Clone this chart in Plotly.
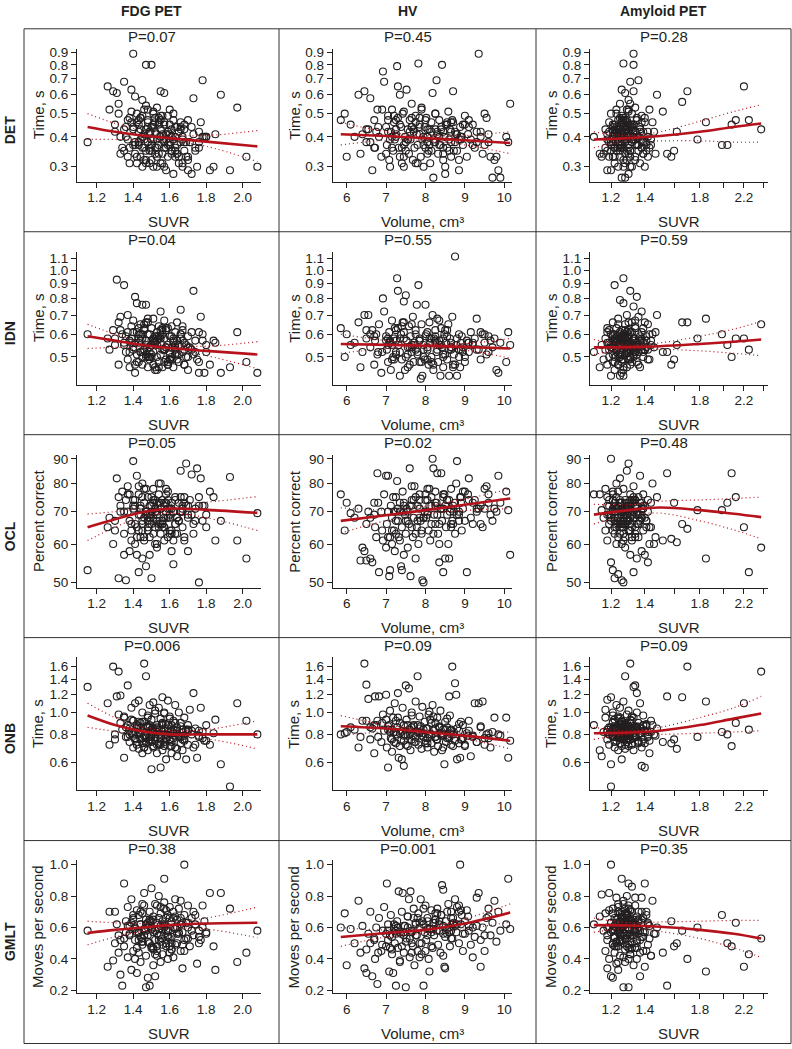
import plotly.graph_objects as go

# ---------------- data ----------------
FDG_SUVR = [
    1.15, 1.26, 1.27, 1.29, 1.30, 1.31, 1.32, 1.32, 1.33, 1.34,
    1.35, 1.35, 1.36, 1.37, 1.37, 1.38, 1.39, 1.39, 1.40, 1.40,
    1.41, 1.41, 1.42, 1.42, 1.43, 1.43, 1.43, 1.44, 1.44, 1.45,
    1.45, 1.45, 1.46, 1.46, 1.47, 1.47, 1.47, 1.48, 1.48, 1.49,
    1.49, 1.49, 1.50, 1.50, 1.51, 1.51, 1.51, 1.52, 1.52, 1.53,
    1.53, 1.53, 1.54, 1.54, 1.55, 1.55, 1.55, 1.56, 1.56, 1.57,
    1.57, 1.57, 1.58, 1.58, 1.59, 1.59, 1.60, 1.60, 1.61, 1.61,
    1.62, 1.62, 1.63, 1.63, 1.64, 1.64, 1.65, 1.65, 1.66, 1.66,
    1.67, 1.67, 1.68, 1.68, 1.69, 1.70, 1.70, 1.71, 1.72, 1.73,
    1.73, 1.74, 1.75, 1.76, 1.77, 1.78, 1.79, 1.80, 1.82, 1.85,
    1.88, 1.93, 1.97, 2.02, 2.08, 1.38, 1.46, 1.50, 1.54, 1.58,
    1.44, 1.48, 1.52, 1.56, 1.60, 1.64, 1.68, 1.42, 1.47, 1.51,
    1.36, 1.40, 1.45, 1.50, 1.55, 1.59, 1.63, 1.67, 1.72, 1.76,
    1.33, 1.41, 1.49, 1.53, 1.57, 1.61, 1.66, 1.70, 1.78, 1.84,
    1.38, 1.40, 1.42, 1.44, 1.46, 1.48, 1.50, 1.52, 1.54, 1.56,
    1.58, 1.60, 1.62, 1.64, 1.66, 1.68, 1.70, 1.43, 1.45, 1.47,
    1.49, 1.51, 1.53, 1.55, 1.57, 1.59, 1.61, 1.63, 1.65, 1.67,
    1.39, 1.41, 1.44, 1.46, 1.48, 1.50, 1.52, 1.54, 1.56, 1.58,
    1.60, 1.62, 1.35, 1.37, 1.74, 1.76, 1.43, 1.47, 1.51, 1.55,
    1.59, 1.63, 1.45, 1.49, 1.53, 1.57, 1.61, 1.30, 1.80, 1.69,
]
HV_VOLUME = [
    5.85, 5.95, 6.00, 6.10, 6.30, 6.35, 6.40, 6.45, 6.50, 6.55,
    6.60, 6.65, 6.70, 6.72, 6.78, 6.82, 6.88, 6.92, 6.95, 7.00,
    7.02, 7.05, 7.08, 7.10, 7.12, 7.15, 7.18, 7.20, 7.22, 7.25,
    7.28, 7.30, 7.32, 7.35, 7.38, 7.40, 7.42, 7.45, 7.48, 7.50,
    7.52, 7.55, 7.58, 7.60, 7.62, 7.65, 7.68, 7.70, 7.72, 7.75,
    7.78, 7.80, 7.82, 7.85, 7.88, 7.90, 7.92, 7.95, 7.98, 8.00,
    8.02, 8.05, 8.08, 8.10, 8.12, 8.15, 8.18, 8.20, 8.22, 8.25,
    8.28, 8.30, 8.32, 8.35, 8.38, 8.40, 8.42, 8.45, 8.48, 8.50,
    8.52, 8.55, 8.58, 8.60, 8.62, 8.65, 8.68, 8.70, 8.75, 8.78,
    8.80, 8.85, 8.88, 8.92, 8.95, 9.00, 9.05, 9.10, 9.15, 9.20,
    9.25, 9.30, 9.35, 9.40, 9.45, 9.50, 9.55, 9.60, 9.65, 9.70,
    9.75, 9.80, 9.85, 9.90, 10.05, 10.10, 10.15, 6.20, 6.75, 7.35,
    7.15, 7.45, 7.65, 7.85, 8.05, 8.25, 8.45, 8.65, 8.90, 7.05,
    7.25, 7.55, 7.75, 7.95, 8.15, 8.35, 8.55, 8.72, 9.08, 9.30,
    7.05, 7.15, 7.25, 7.35, 7.45, 7.55, 7.65, 7.75, 7.85, 7.95,
    8.05, 8.15, 8.25, 8.35, 8.45, 8.55, 8.65, 8.75, 8.85, 8.95,
    7.10, 7.30, 7.50, 7.70, 7.90, 8.10, 8.30, 8.50, 8.70, 8.90,
    6.60, 6.80, 7.00, 7.20, 7.40, 7.60, 7.80, 8.00, 8.20, 8.40,
    8.60, 8.80, 9.00, 9.20, 9.40, 6.90, 7.45, 7.85, 8.25, 8.65,
    6.50, 6.70, 7.25, 7.65, 8.05, 8.45, 8.85, 9.10, 9.50, 9.60,
]
AMY_SUVR = [
    1.11, 1.14, 1.15, 1.16, 1.17, 1.17, 1.18, 1.18, 1.19, 1.19,
    1.20, 1.20, 1.20, 1.21, 1.21, 1.21, 1.22, 1.22, 1.22, 1.23,
    1.23, 1.23, 1.24, 1.24, 1.24, 1.25, 1.25, 1.25, 1.26, 1.26,
    1.26, 1.27, 1.27, 1.27, 1.28, 1.28, 1.28, 1.29, 1.29, 1.29,
    1.30, 1.30, 1.30, 1.31, 1.31, 1.31, 1.32, 1.32, 1.33, 1.33,
    1.33, 1.34, 1.34, 1.35, 1.35, 1.36, 1.36, 1.37, 1.37, 1.38,
    1.38, 1.39, 1.39, 1.40, 1.40, 1.41, 1.42, 1.43, 1.44, 1.45,
    1.46, 1.48, 1.52, 1.55, 1.58, 1.60, 1.62, 1.66, 1.70, 1.78,
    1.85, 1.99, 2.04, 2.08, 2.12, 2.20, 2.25, 2.38, 1.26, 1.30,
    1.21, 1.23, 1.25, 1.27, 1.29, 1.31, 1.33, 1.35, 1.24, 1.28,
    1.19, 1.22, 1.26, 1.30, 1.34, 1.37, 1.41, 1.27, 1.32, 1.25,
    1.20, 1.24, 1.28, 1.31, 1.36, 1.39, 1.29, 1.26, 1.23, 1.33,
    1.18, 1.22, 1.25, 1.28, 1.30, 1.32, 1.35, 1.38, 1.42, 1.27,
    1.21, 1.24, 1.26, 1.29, 1.31, 1.34, 1.29, 1.27, 1.25, 1.30,
    1.20, 1.21, 1.22, 1.23, 1.24, 1.25, 1.26, 1.27, 1.28, 1.29,
    1.30, 1.31, 1.32, 1.33, 1.34, 1.35, 1.36, 1.37, 1.38, 1.39,
    1.22, 1.24, 1.26, 1.28, 1.30, 1.32, 1.34, 1.36, 1.23, 1.27,
    1.25, 1.29, 1.31, 1.33, 1.21, 1.19, 1.40, 1.41, 1.42, 1.43,
    1.26, 1.28, 1.30, 1.24, 1.32, 1.27, 1.29, 1.25, 1.35, 1.31,
    1.18, 1.22, 1.26, 1.30, 1.34, 1.38, 1.44, 1.47, 1.28, 1.23,
]

# DET (Time, s)
DET_FDG = [
    0.38, 0.65, 0.52, 0.62, 0.42, 0.61, 0.55, 0.50, 0.40, 0.36,
    0.68, 0.35, 0.44, 0.33, 0.39, 0.31, 0.63, 0.46, 0.89, 0.37,
    0.59, 0.34, 0.50, 0.31, 0.42, 0.37, 0.45, 0.33, 0.48, 0.57,
    0.40, 0.30, 0.52, 0.36, 0.80, 0.43, 0.32, 0.47, 0.38, 0.31,
    0.42, 0.35, 0.80, 0.44, 0.30, 0.50, 0.39, 0.36, 0.46, 0.33,
    0.41, 0.53, 0.37, 0.48, 0.62, 0.31, 0.43, 0.39, 0.34, 0.61,
    0.45, 0.36, 0.29, 0.41, 0.33, 0.49, 0.38, 0.52, 0.35, 0.43,
    0.47, 0.28, 0.40, 0.36, 0.44, 0.34, 0.31, 0.42, 0.38, 0.46,
    0.30, 0.39, 0.35, 0.45, 0.33, 0.47, 0.29, 0.38, 0.28, 0.58,
    0.41, 0.36, 0.30, 0.38, 0.46, 0.69, 0.40, 0.40, 0.29, 0.41,
    0.60, 0.29, 0.53, 0.33, 0.30, 0.48, 0.41, 0.37, 0.45, 0.39,
    0.39, 0.44, 0.34, 0.49, 0.41, 0.37, 0.43, 0.46, 0.35, 0.51,
    0.40, 0.43, 0.36, 0.32, 0.47, 0.42, 0.35, 0.31, 0.44, 0.36,
    0.34, 0.38, 0.42, 0.39, 0.30, 0.40, 0.44, 0.33, 0.40, 0.30,
    0.36, 0.44, 0.33, 0.48, 0.39, 0.52, 0.35, 0.42, 0.46, 0.31,
    0.41, 0.37, 0.50, 0.34, 0.43, 0.38, 0.32, 0.47, 0.40, 0.54,
    0.36, 0.45, 0.30, 0.49, 0.38, 0.42, 0.35, 0.44, 0.33, 0.40,
    0.51, 0.37, 0.43, 0.32, 0.46, 0.39, 0.48, 0.34, 0.41, 0.36,
    0.45, 0.39, 0.43, 0.47, 0.35, 0.42, 0.38, 0.31, 0.44, 0.40,
    0.37, 0.33, 0.49, 0.41, 0.36, 0.46, 0.34, 0.45, 0.40, 0.38,
]
DET_HV = [
    0.47, 0.50, 0.33, 0.45, 0.60, 0.34, 0.41, 0.62, 0.38, 0.43,
    0.58, 0.29, 0.47, 0.36, 0.52, 0.40, 0.33, 0.75, 0.68, 0.44,
    0.37, 0.49, 0.32, 0.30, 0.42, 0.52, 0.35, 0.46, 0.39, 0.41,
    0.79, 0.65, 0.36, 0.60, 0.44, 0.31, 0.50, 0.30, 0.40, 0.38,
    0.63, 0.43, 0.34, 0.47, 0.39, 0.55, 0.32, 0.42, 0.36, 0.49,
    0.41, 0.37, 0.81, 0.45, 0.33, 0.52, 0.39, 0.30, 0.44, 0.36,
    0.48, 0.40, 0.35, 0.43, 0.31, 0.46, 0.61, 0.27, 0.38, 0.50,
    0.69, 0.42, 0.34, 0.47, 0.37, 0.44, 0.80, 0.32, 0.40, 0.28,
    0.45, 0.36, 0.51, 0.39, 0.43, 0.33, 0.47, 0.62, 0.38, 0.41,
    0.35, 0.29, 0.44, 0.40, 0.37, 0.49, 0.33, 0.47, 0.39, 0.45,
    0.36, 0.42, 0.89, 0.42, 0.34, 0.50, 0.48, 0.38, 0.33, 0.27,
    0.32, 0.33, 0.29, 0.27, 0.40, 0.38, 0.55, 0.40, 0.42, 0.45,
    0.40, 0.37, 0.44, 0.41, 0.38, 0.43, 0.36, 0.42, 0.39, 0.47,
    0.43, 0.39, 0.46, 0.40, 0.42, 0.37, 0.45, 0.35, 0.41, 0.38,
    0.42, 0.36, 0.47, 0.33, 0.51, 0.39, 0.44, 0.31, 0.48, 0.37,
    0.43, 0.35, 0.50, 0.40, 0.34, 0.46, 0.38, 0.42, 0.32, 0.45,
    0.39, 0.48, 0.35, 0.43, 0.53, 0.37, 0.41, 0.30, 0.46, 0.40,
    0.38, 0.44, 0.34, 0.49, 0.36, 0.42, 0.31, 0.47, 0.39, 0.43,
    0.35, 0.41, 0.45, 0.37, 0.40, 0.52, 0.33, 0.44, 0.38, 0.46,
    0.43, 0.36, 0.40, 0.48, 0.34, 0.42, 0.39, 0.44, 0.37, 0.41,
]
DET_AMY = [
    0.40, 0.34, 0.33, 0.34, 0.43, 0.36, 0.29, 0.41, 0.38, 0.46,
    0.29, 0.37, 0.50, 0.33, 0.42, 0.39, 0.45, 0.31, 0.36, 0.52,
    0.40, 0.35, 0.47, 0.30, 0.38, 0.43, 0.33, 0.55, 0.63, 0.27,
    0.41, 0.81, 0.36, 0.48, 0.61, 0.27, 0.39, 0.44, 0.32, 0.52,
    0.28, 0.40, 0.57, 0.68, 0.35, 0.45, 0.38, 0.50, 0.89, 0.80,
    0.62, 0.42, 0.33, 0.47, 0.37, 0.69, 0.40, 0.31, 0.44, 0.36,
    0.49, 0.38, 0.42, 0.30, 0.46, 0.35, 0.40, 0.52, 0.37, 0.46,
    0.42, 0.60, 0.51, 0.34, 0.33, 0.35, 0.42, 0.56, 0.62, 0.39,
    0.46, 0.37, 0.37, 0.45, 0.47, 0.65, 0.47, 0.43, 0.37, 0.42,
    0.38, 0.44, 0.35, 0.40, 0.46, 0.33, 0.41, 0.37, 0.43, 0.39,
    0.42, 0.36, 0.45, 0.34, 0.39, 0.43, 0.37, 0.41, 0.30, 0.48,
    0.35, 0.41, 0.38, 0.44, 0.40, 0.34, 0.47, 0.36, 0.42, 0.39,
    0.39, 0.43, 0.37, 0.42, 0.36, 0.45, 0.40, 0.38, 0.33, 0.44,
    0.44, 0.38, 0.42, 0.35, 0.41, 0.39, 0.43, 0.46, 0.40, 0.37,
    0.38, 0.45, 0.33, 0.50, 0.41, 0.36, 0.47, 0.30, 0.43, 0.39,
    0.52, 0.35, 0.44, 0.40, 0.32, 0.48, 0.37, 0.42, 0.46, 0.34,
    0.41, 0.36, 0.49, 0.31, 0.44, 0.39, 0.53, 0.35, 0.42, 0.47,
    0.37, 0.43, 0.30, 0.45, 0.40, 0.33, 0.48, 0.38, 0.42, 0.36,
    0.46, 0.34, 0.51, 0.39, 0.43, 0.32, 0.40, 0.44, 0.37, 0.55,
    0.35, 0.41, 0.38, 0.45, 0.42, 0.36, 0.39, 0.34, 0.47, 0.43,
]

# IDN (Time, s)
IDN_FDG = [
    0.60, 0.58, 0.53, 0.62, 0.55, 0.93, 0.47, 0.66, 0.69, 0.60,
    0.89, 0.56, 0.52, 0.70, 0.49, 0.46, 0.64, 0.58, 0.54, 0.67,
    0.81, 0.44, 0.77, 0.51, 0.60, 0.48, 0.56, 0.65, 0.52, 0.76,
    0.58, 0.47, 0.62, 0.53, 0.76, 0.50, 0.57, 0.66, 0.46, 0.60,
    0.54, 0.49, 0.63, 0.57, 0.47, 0.68, 0.52, 0.59, 0.45, 0.61,
    0.55, 0.50, 0.64, 0.48, 0.72, 0.56, 0.51, 0.60, 0.46, 0.67,
    0.53, 0.58, 0.49, 0.62, 0.55, 0.47, 0.59, 0.52, 0.64, 0.50,
    0.57, 0.46, 0.61, 0.53, 0.49, 0.66, 0.55, 0.48, 0.73, 0.58,
    0.52, 0.62, 0.47, 0.56, 0.50, 0.59, 0.45, 0.54, 0.61, 0.85,
    0.51, 0.57, 0.49, 0.44, 0.69, 0.60, 0.44, 0.55, 0.47, 0.56,
    0.44, 0.46, 0.61, 0.48, 0.44, 0.57, 0.63, 0.51, 0.58, 0.54,
    0.52, 0.60, 0.56, 0.63, 0.51, 0.57, 0.53, 0.61, 0.55, 0.58,
    0.59, 0.53, 0.50, 0.55, 0.58, 0.63, 0.51, 0.57, 0.53, 0.61,
    0.62, 0.56, 0.52, 0.59, 0.48, 0.54, 0.60, 0.50, 0.57, 0.57,
    0.52, 0.61, 0.48, 0.57, 0.65, 0.50, 0.55, 0.46, 0.59, 0.53,
    0.63, 0.49, 0.56, 0.51, 0.60, 0.47, 0.54, 0.58, 0.52, 0.66,
    0.50, 0.57, 0.45, 0.62, 0.53, 0.48, 0.59, 0.55, 0.51, 0.64,
    0.56, 0.47, 0.60, 0.53, 0.68, 0.50, 0.57, 0.46, 0.62, 0.54,
    0.49, 0.58, 0.55, 0.61, 0.52, 0.48, 0.63, 0.51, 0.56, 0.59,
    0.47, 0.54, 0.60, 0.50, 0.57, 0.53, 0.49, 0.58, 0.52, 0.55,
]
IDN_HV = [
    0.63, 0.50, 0.60, 0.55, 0.66, 0.46, 0.52, 0.70, 0.58, 0.70,
    0.54, 0.62, 0.47, 0.57, 0.51, 0.65, 0.44, 0.80, 0.72, 0.59,
    0.53, 0.48, 0.61, 0.56, 0.45, 0.67, 0.50, 0.58, 0.63, 0.52,
    0.94, 0.85, 0.55, 0.43, 0.60, 0.49, 0.66, 0.78, 0.45, 0.82,
    0.57, 0.51, 0.64, 0.47, 0.59, 0.54, 0.69, 0.48, 0.56, 0.62,
    0.76, 0.52, 0.89, 0.58, 0.42, 0.65, 0.43, 0.55, 0.49, 0.76,
    0.60, 0.53, 0.47, 0.66, 0.56, 0.50, 0.70, 0.45, 0.58, 0.62,
    0.52, 0.68, 0.48, 0.57, 0.43, 0.63, 0.54, 0.46, 0.60, 0.51,
    0.56, 0.49, 0.65, 0.43, 0.58, 0.53, 0.69, 0.47, 1.12, 0.55,
    0.43, 0.50, 0.46, 0.59, 0.54, 0.48, 0.57, 0.52, 0.61, 0.55,
    0.58, 0.68, 0.53, 0.49, 0.60, 0.56, 0.51, 0.59, 0.57, 0.54,
    0.58, 0.45, 0.44, 0.56, 0.48, 0.61, 0.55, 0.56, 0.60, 0.58,
    0.55, 0.61, 0.52, 0.57, 0.54, 0.59, 0.50, 0.56, 0.53, 0.58,
    0.57, 0.54, 0.60, 0.53, 0.58, 0.55, 0.62, 0.51, 0.56, 0.53,
    0.55, 0.49, 0.62, 0.52, 0.58, 0.46, 0.65, 0.53, 0.57, 0.50,
    0.61, 0.48, 0.56, 0.67, 0.51, 0.59, 0.54, 0.47, 0.60, 0.52,
    0.57, 0.63, 0.50, 0.55, 0.48, 0.58, 0.53, 0.62, 0.46, 0.56,
    0.60, 0.52, 0.57, 0.49, 0.64, 0.54, 0.51, 0.59, 0.47, 0.55,
    0.53, 0.58, 0.50, 0.56, 0.61, 0.52, 0.66, 0.48, 0.57, 0.54,
    0.62, 0.59, 0.51, 0.55, 0.49, 0.58, 0.53, 0.56, 0.60, 0.52,
]
IDN_AMY = [
    0.52, 0.46, 0.55, 0.49, 0.58, 0.53, 0.61, 0.47, 0.56, 0.50,
    0.60, 0.43, 0.54, 0.66, 0.51, 0.48, 0.89, 0.57, 0.45, 0.63,
    0.52, 0.59, 0.47, 0.55, 0.68, 0.50, 0.79, 0.43, 0.57, 0.62,
    0.48, 0.94, 0.77, 0.43, 0.54, 0.65, 0.51, 0.59, 0.46, 0.70,
    0.56, 0.49, 0.62, 0.85, 0.53, 0.47, 0.66, 0.55, 0.75, 0.50,
    0.58, 0.52, 0.63, 0.81, 0.48, 0.57, 0.69, 0.54, 0.46, 0.72,
    0.61, 0.50, 0.56, 0.66, 0.53, 0.59, 0.65, 0.49, 0.57, 0.60,
    0.54, 0.70, 0.52, 0.52, 0.47, 0.49, 0.55, 0.66, 0.66, 0.58,
    0.68, 0.60, 0.55, 0.50, 0.58, 0.58, 0.53, 0.65, 0.55, 0.52,
    0.57, 0.53, 0.50, 0.58, 0.55, 0.61, 0.51, 0.56, 0.54, 0.59,
    0.53, 0.58, 0.55, 0.60, 0.52, 0.57, 0.54, 0.49, 0.56, 0.61,
    0.55, 0.51, 0.58, 0.54, 0.60, 0.52, 0.56, 0.59, 0.53, 0.57,
    0.56, 0.60, 0.52, 0.55, 0.58, 0.54, 0.51, 0.57, 0.53, 0.59,
    0.54, 0.57, 0.59, 0.53, 0.56, 0.58, 0.52, 0.55, 0.60, 0.56,
    0.54, 0.60, 0.48, 0.57, 0.65, 0.51, 0.58, 0.46, 0.62, 0.53,
    0.56, 0.49, 0.61, 0.52, 0.67, 0.55, 0.47, 0.59, 0.53, 0.63,
    0.50, 0.57, 0.44, 0.60, 0.54, 0.48, 0.64, 0.52, 0.58, 0.45,
    0.56, 0.61, 0.50, 0.55, 0.59, 0.62, 0.53, 0.57, 0.49, 0.60,
    0.51, 0.58, 0.66, 0.47, 0.55, 0.60, 0.52, 0.57, 0.54, 0.50,
    0.63, 0.56, 0.49, 0.59, 0.53, 0.58, 0.55, 0.61, 0.51, 0.57,
]

# OCL (Percent correct)
OCL_FDG = [
    53, 65, 68, 60, 64, 82, 51, 75, 70, 77,
    63, 57, 50.5, 79, 70, 58, 66, 61, 89, 72,
    60, 74, 57, 83, 52.5, 69, 76, 62, 71, 56,
    80, 66, 73, 61, 54, 70, 78, 64, 67, 57,
    72, 62, 51, 75, 68, 78, 63, 70, 65, 73,
    69, 60, 76, 66, 71, 80, 63, 74, 67, 61,
    72, 65, 78, 68, 62, 74, 69, 64, 71, 58,
    54.5, 70, 66, 75, 68, 63, 73, 67, 85, 70,
    72, 65, 75, 62, 88, 69, 58, 74, 83.5, 66,
    63, 71, 86, 50, 82, 67, 72, 65, 77, 61,
    67, 82.5, 61, 56, 69.5, 76, 68, 72, 65, 70,
    72, 69, 74, 66, 71, 68, 73, 65, 70, 67,
    74, 71, 67, 70, 73, 68, 66, 71, 69, 75,
    72, 66, 69, 67, 73, 64, 70, 68, 72, 75,
    67, 74, 62, 71, 78, 65, 69, 60, 73, 66,
    76, 63, 70, 68, 75, 61, 72, 79, 64, 70,
    66, 73, 59, 71, 68, 77, 63, 74, 67, 70,
    64, 72, 69, 62, 75, 66, 71, 80, 65, 73,
    68, 61, 70, 76, 67, 72, 64, 69, 74, 66,
    71, 63, 75, 68, 70, 65, 73, 67, 69, 72,
]
OCL_HV = [
    76, 64, 73, 69.5, 71, 55.5, 59, 58, 55.5, 70,
    56, 55, 73, 65, 84, 52.5, 70, 61, 76, 83,
    66, 83, 51.5, 53, 72, 60, 75, 64, 58, 70,
    81, 67, 62, 73, 54, 53, 77, 57, 69, 63,
    71, 59, 66, 86, 51.5, 74, 62, 68, 79, 56,
    65, 72, 60, 76, 67, 63, 50.5, 50, 70, 74,
    68, 78, 64, 72, 61, 75, 90, 86, 69, 66,
    73, 84, 63, 55, 71, 84, 67, 52.5, 76, 56,
    65, 74, 60, 56, 70, 78, 67, 72, 63, 80,
    89, 69, 75, 64, 71, 67, 52.5, 82, 68, 73,
    74, 70, 71, 66, 65, 78, 79, 76, 69, 67,
    71, 70, 83, 73, 77, 70.5, 57, 68, 62, 70,
    68, 72, 65, 74, 69, 77, 71, 66, 73, 62,
    67, 70, 75, 68, 72, 66, 74, 70, 76, 71,
    70, 64, 75, 61, 73, 67, 79, 63, 71, 68,
    74, 66, 72, 60, 76, 69, 65, 73, 70, 77,
    62, 71, 67, 74, 64, 78, 69, 72, 66, 75,
    68, 73, 59, 70, 65, 72, 67, 76, 63, 71,
    74, 69, 77, 66, 72, 64, 70, 68, 73, 71,
    66, 69, 63, 72, 70, 75, 67, 74, 71, 73,
]
OCL_AMY = [
    76, 76, 70.5, 68, 78, 64, 61, 72, 66, 74,
    90, 55, 69, 53, 77, 64, 51, 72, 67, 80,
    60, 75, 52, 68, 71, 63, 82, 66, 50.5, 73,
    65, 50, 78, 69, 59, 74, 62, 85, 67, 71,
    88, 64, 70, 57, 76, 66, 61, 73, 52.5, 68,
    79, 65, 72, 56, 69, 75, 62, 67, 83, 58,
    71, 64, 76, 57, 68, 65, 55, 60, 73, 80,
    60, 75, 61, 84, 61.5, 73, 60.5, 66, 64.5, 70.5,
    56, 70.5, 73, 84, 75, 65, 52.5, 59, 69, 72,
    70, 67, 73, 65, 71, 68, 74, 66, 62, 70,
    72, 68, 66, 71, 74, 69, 67, 63, 70, 73,
    67, 71, 69, 74, 66, 72, 68, 70, 65, 73,
    69, 73, 67, 71, 70, 65, 72, 68, 74, 66,
    71, 66, 70, 72, 68, 74, 69, 67, 73, 70,
    68, 74, 63, 71, 77, 65, 70, 61, 73, 67,
    72, 64, 69, 75, 62, 70, 66, 73, 68, 71,
    65, 72, 60, 70, 67, 74, 63, 69, 71, 66,
    73, 68, 64, 70, 76, 69, 72, 67, 70, 65,
    71, 66, 73, 68, 62, 70, 67, 74, 69, 72,
    75, 70, 66, 71, 68, 73, 65, 62, 69, 71,
]

# ONB (Time, s)
ONB_FDG = [
    1.30, 1.10, 0.72, 1.60, 0.76, 1.18, 1.52, 0.98, 1.19, 0.84,
    0.63, 0.95, 0.78, 1.32, 0.88, 0.74, 1.05, 0.81, 0.70, 0.92,
    1.10, 0.77, 0.85, 0.72, 1.13, 0.80, 0.69, 0.90, 0.76, 1.00,
    0.83, 0.66, 1.65, 0.79, 1.45, 0.87, 0.73, 0.95, 0.68, 1.08,
    0.78, 0.86, 0.56, 0.93, 0.70, 1.11, 0.82, 0.75, 0.99, 0.66,
    0.88, 0.72, 1.05, 0.80, 0.57, 0.94, 0.77, 1.17, 0.68, 0.85,
    0.74, 1.00, 0.62, 0.89, 0.79, 1.13, 0.71, 0.96, 0.83, 0.66,
    0.92, 0.77, 1.08, 0.70, 0.86, 0.64, 1.00, 0.79, 0.73, 0.90,
    0.82, 0.68, 0.95, 0.76, 0.62, 0.88, 0.72, 1.03, 0.80, 1.22,
    0.70, 0.85, 0.63, 0.78, 1.05, 0.82, 0.75, 0.88, 0.72, 0.93,
    0.59, 0.47, 1.10, 0.92, 0.80, 0.85, 0.91, 0.74, 0.84, 0.77,
    0.81, 0.87, 0.78, 0.90, 0.76, 0.83, 0.79, 0.88, 0.74, 0.85,
    0.86, 0.80, 0.77, 0.84, 0.72, 0.88, 0.81, 0.76, 0.83, 0.79,
    0.90, 0.82, 0.75, 0.86, 0.80, 0.71, 0.78, 0.84, 0.77, 0.81,
    0.80, 0.92, 0.74, 0.86, 0.70, 0.97, 0.78, 0.84, 0.72, 0.89,
    0.76, 0.94, 0.81, 0.69, 0.87, 0.75, 0.83, 0.91, 0.73, 0.79,
    0.88, 0.71, 0.85, 0.77, 0.99, 0.82, 0.74, 0.90, 0.78, 0.84,
    0.93, 0.76, 0.81, 0.70, 0.86, 0.79, 1.02, 0.73, 0.88, 0.80,
    0.75, 0.84, 0.96, 0.78, 0.72, 0.83, 0.87, 0.77, 0.81, 0.74,
    0.85, 0.79, 0.91, 0.76, 0.82, 0.71, 0.88, 0.80, 0.75, 0.84,
]
ONB_HV = [
    0.80, 0.81, 0.82, 0.86, 0.70, 0.78, 0.92, 1.65, 1.33, 1.15,
    0.76, 0.85, 0.66, 1.18, 0.92, 1.18, 0.74, 0.98, 0.83, 1.20,
    0.70, 0.57, 0.88, 1.02, 0.77, 0.67, 0.95, 0.82, 1.10, 0.73,
    0.86, 1.22, 0.63, 0.90, 0.75, 0.62, 1.05, 0.58, 0.80, 1.32,
    0.93, 0.71, 1.28, 0.84, 0.68, 1.00, 0.79, 0.88, 0.74, 1.12,
    0.82, 1.45, 0.72, 0.96, 0.87, 0.69, 1.06, 0.78, 0.91, 0.75,
    0.85, 0.70, 0.98, 0.80, 0.93, 0.73, 1.08, 0.83, 0.67, 0.90,
    0.76, 0.95, 0.71, 0.87, 1.02, 0.79, 0.68, 0.84, 0.59, 0.91,
    0.74, 0.86, 0.78, 1.18, 0.97, 0.72, 1.60, 0.80, 1.35, 1.20,
    0.62, 0.83, 0.63, 0.76, 0.88, 0.71, 0.81, 0.92, 0.64, 0.78,
    1.10, 0.74, 1.10, 0.86, 1.12, 0.72, 0.80, 0.77, 0.70, 0.82,
    0.95, 0.45, 0.80, 0.79, 0.95, 0.63, 0.75, 0.84, 0.88, 0.81,
    0.84, 0.79, 0.86, 0.81, 0.77, 0.85, 0.80, 0.83, 0.76, 0.87,
    0.82, 0.88, 0.78, 0.84, 0.80, 0.86, 0.77, 0.82, 0.79, 0.74,
    0.84, 0.76, 0.92, 0.71, 0.88, 0.79, 0.97, 0.74, 0.85, 0.81,
    0.73, 0.90, 0.78, 0.86, 0.70, 0.94, 0.80, 0.75, 0.89, 0.77,
    0.82, 0.95, 0.72, 0.87, 0.79, 1.01, 0.76, 0.84, 0.71, 0.91,
    0.86, 0.78, 0.93, 0.74, 0.83, 0.80, 0.88, 0.73, 0.96, 0.81,
    0.77, 0.85, 0.72, 0.79, 0.87, 0.90, 0.75, 0.82, 0.78, 0.84,
    0.92, 0.88, 0.80, 0.76, 0.85, 0.79, 0.73, 0.83, 0.77, 0.81,
]
ONB_AMY = [
    0.88, 0.68, 0.64, 0.82, 0.95, 1.03, 1.14, 0.76, 0.86, 0.72,
    1.17, 0.59, 0.47, 0.90, 0.78, 1.00, 0.84, 0.70, 0.93, 0.81,
    0.75, 1.08, 0.87, 0.68, 0.96, 0.80, 0.73, 1.05, 0.62, 0.85,
    0.91, 0.77, 1.12, 0.83, 0.69, 1.45, 0.88, 0.74, 0.98, 0.79,
    0.86, 0.71, 1.02, 0.80, 1.65, 0.76, 0.92, 0.84, 1.30, 0.68,
    0.95, 1.32, 0.78, 0.87, 1.22, 0.73, 0.90, 0.81, 1.10, 0.58,
    0.85, 0.76, 0.97, 0.57, 0.83, 0.88, 0.79, 0.66, 0.92, 0.88,
    0.80, 0.85, 0.74, 1.18, 0.73, 0.76, 0.69, 1.17, 1.60, 0.78,
    1.12, 0.82, 0.80, 0.71, 0.90, 1.10, 0.84, 1.52, 0.82, 0.87,
    0.84, 0.79, 0.88, 0.82, 0.76, 0.90, 0.81, 0.86, 0.78, 0.83,
    0.80, 0.87, 0.83, 0.77, 0.85, 0.81, 0.89, 0.79, 0.84, 0.82,
    0.86, 0.81, 0.78, 0.84, 0.80, 0.88, 0.83, 0.77, 0.85, 0.79,
    0.82, 0.85, 0.80, 0.87, 0.79, 0.83, 0.86, 0.81, 0.78, 0.84,
    0.79, 0.83, 0.86, 0.80, 0.84, 0.78, 0.82, 0.87, 0.81, 0.85,
    0.82, 0.91, 0.74, 0.86, 0.78, 0.95, 0.71, 0.84, 0.89, 0.76,
    0.80, 0.93, 0.73, 0.87, 0.79, 1.00, 0.75, 0.83, 0.70, 0.88,
    0.85, 0.77, 0.92, 0.72, 0.81, 0.96, 0.79, 0.74, 0.86, 0.83,
    0.78, 0.90, 0.76, 0.84, 0.97, 0.80, 0.73, 0.87, 0.82, 0.75,
    0.89, 0.81, 0.77, 0.94, 0.72, 0.85, 0.79, 0.88, 0.83, 0.76,
    0.84, 0.78, 0.91, 0.80, 0.86, 0.74, 0.82, 0.79, 0.87, 0.81,
]

# GMLT (Moves per second)
GMLT_FDG = [
    0.58, 0.35, 0.70, 0.39, 0.50, 0.62, 0.44, 0.55, 0.30, 0.23,
    0.88, 0.48, 0.64, 0.41, 0.73, 0.56, 0.78, 0.33, 0.66, 0.45,
    0.60, 0.52, 0.71, 0.31, 0.57, 0.68, 0.44, 0.62, 0.38, 0.53,
    0.75, 0.49, 0.82, 0.59, 0.22, 0.65, 0.42, 0.55, 0.28, 0.70,
    0.23, 0.61, 0.48, 0.85, 0.57, 0.36, 0.67, 0.29, 0.52, 0.74,
    0.45, 0.63, 0.55, 0.80, 0.38, 0.69, 0.51, 0.59, 0.43, 0.76,
    0.62, 0.91, 0.48, 0.66, 0.40, 0.58, 0.73, 0.53, 0.64, 0.46,
    0.70, 0.41, 0.60, 0.78, 0.50, 0.65, 0.56, 0.72, 0.45, 0.62,
    0.34, 0.57, 1.00, 0.68, 0.53, 0.74, 0.60, 0.48, 0.66, 0.55,
    0.70, 0.62, 0.37, 0.58, 0.52, 0.74, 0.64, 0.57, 0.82, 0.33,
    0.82, 0.72, 0.38, 0.44, 0.58, 0.61, 0.55, 0.64, 0.59, 0.50,
    0.54, 0.63, 0.58, 0.49, 0.66, 0.60, 0.52, 0.57, 0.62, 0.47,
    0.57, 0.65, 0.51, 0.60, 0.55, 0.68, 0.49, 0.63, 0.58, 0.54,
    0.52, 0.59, 0.64, 0.56, 0.61, 0.50, 0.66, 0.53, 0.60, 0.48,
    0.55, 0.68, 0.47, 0.62, 0.74, 0.51, 0.59, 0.43, 0.66, 0.53,
    0.71, 0.48, 0.60, 0.56, 0.77, 0.45, 0.63, 0.52, 0.69, 0.58,
    0.50, 0.65, 0.42, 0.61, 0.72, 0.54, 0.46, 0.67, 0.57, 0.49,
    0.63, 0.40, 0.70, 0.55, 0.60, 0.47, 0.75, 0.52, 0.64, 0.58,
    0.44, 0.66, 0.53, 0.61, 0.68, 0.50, 0.57, 0.62, 0.46, 0.73,
    0.55, 0.59, 0.51, 0.65, 0.48, 0.60, 0.54, 0.70, 0.56, 0.63,
]
GMLT_HV = [
    0.60, 0.69, 0.36, 0.59, 0.77, 0.44, 0.61, 0.34, 0.31, 0.56,
    0.70, 0.29, 0.52, 0.40, 0.24, 0.66, 0.45, 0.58, 0.73, 0.48,
    0.88, 0.62, 0.32, 0.55, 0.68, 0.43, 0.31, 0.59, 0.50, 0.23,
    0.64, 0.47, 0.83, 0.38, 0.56, 0.70, 0.82, 0.44, 0.61, 0.22,
    0.53, 0.67, 0.78, 0.41, 0.83, 0.58, 0.48, 0.72, 0.36, 0.62,
    0.55, 0.45, 0.69, 0.60, 0.78, 0.50, 0.64, 0.23, 0.57, 0.74,
    0.52, 0.66, 0.40, 0.32, 0.59, 0.71, 0.47, 0.63, 0.55, 0.69,
    0.58, 0.72, 0.49, 0.62, 0.44, 0.68, 0.87, 0.84, 0.35, 0.34,
    0.64, 0.56, 0.75, 0.60, 0.48, 0.70, 0.53, 0.66, 0.78, 0.57,
    0.62, 0.50, 1.00, 0.68, 0.45, 0.56, 0.71, 0.58, 0.49, 0.41,
    0.54, 0.79, 0.82, 0.35, 0.60, 0.45, 0.66, 0.72, 0.55, 0.63,
    0.77, 0.51, 0.70, 0.58, 0.62, 0.91, 0.59, 0.50, 0.60, 0.57,
    0.54, 0.61, 0.57, 0.63, 0.59, 0.65, 0.61, 0.66, 0.62, 0.58,
    0.56, 0.60, 0.55, 0.62, 0.57, 0.64, 0.59, 0.63, 0.67, 0.61,
    0.52, 0.46, 0.61, 0.39, 0.57, 0.67, 0.44, 0.63, 0.50, 0.72,
    0.55, 0.48, 0.65, 0.58, 0.42, 0.70, 0.53, 0.61, 0.74, 0.56,
    0.47, 0.60, 0.51, 0.66, 0.43, 0.59, 0.69, 0.54, 0.62, 0.71,
    0.50, 0.44, 0.56, 0.62, 0.48, 0.53, 0.66, 0.45, 0.59, 0.68,
    0.57, 0.73, 0.64, 0.60, 0.52, 0.49, 0.55, 0.41, 0.63, 0.58,
    0.46, 0.53, 0.58, 0.50, 0.64, 0.56, 0.70, 0.61, 0.55, 0.67,
]
GMLT_AMY = [
    0.62, 0.67, 0.81, 0.58, 0.69, 0.45, 0.34, 0.55, 0.82, 0.40,
    1.00, 0.29, 0.63, 0.50, 0.72, 0.28, 0.58, 0.44, 0.66, 0.37,
    0.60, 0.79, 0.48, 0.33, 0.70, 0.55, 0.64, 0.42, 0.91, 0.52,
    0.68, 0.22, 0.57, 0.75, 0.46, 0.62, 0.38, 0.80, 0.53, 0.66,
    0.88, 0.22, 0.59, 0.71, 0.43, 0.65, 0.86, 0.50, 0.36, 0.62,
    0.55, 0.74, 0.47, 0.67, 0.40, 0.58, 0.70, 0.29, 0.52, 0.79,
    0.63, 0.45, 0.57, 0.88, 0.35, 0.68, 0.49, 0.61, 0.42, 0.77,
    0.56, 0.60, 0.44, 0.23, 0.64, 0.48, 0.50, 0.58, 0.40, 0.60,
    0.32, 0.68, 0.50, 0.48, 0.63, 0.35, 0.43, 0.53, 0.60, 0.64,
    0.58, 0.65, 0.52, 0.61, 0.69, 0.55, 0.63, 0.47, 0.57, 0.72,
    0.60, 0.54, 0.66, 0.49, 0.62, 0.58, 0.70, 0.56, 0.64, 0.51,
    0.63, 0.57, 0.69, 0.53, 0.60, 0.66, 0.55, 0.61, 0.48, 0.65,
    0.52, 0.61, 0.58, 0.64, 0.56, 0.70, 0.59, 0.54, 0.62, 0.67,
    0.59, 0.66, 0.55, 0.62, 0.71, 0.57, 0.63, 0.50, 0.60, 0.68,
    0.57, 0.69, 0.48, 0.63, 0.75, 0.52, 0.60, 0.41, 0.66, 0.55,
    0.72, 0.46, 0.62, 0.58, 0.79, 0.50, 0.65, 0.44, 0.70, 0.54,
    0.61, 0.38, 0.67, 0.53, 0.74, 0.47, 0.59, 0.64, 0.51, 0.77,
    0.56, 0.68, 0.43, 0.62, 0.49, 0.71, 0.57, 0.45, 0.63, 0.53,
    0.66, 0.59, 0.40, 0.73, 0.55, 0.61, 0.48, 0.69, 0.52, 0.64,
    0.60, 0.54, 0.70, 0.47, 0.58, 0.65, 0.42, 0.56, 0.62, 0.50,
]

# fitted curves with 95% bands, read at knot positions
FDG_KNOTS = [1.15, 1.30, 1.45, 1.60, 1.80, 2.08]
HV_KNOTS = [5.85, 7.0, 8.0, 9.0, 10.15]
AMY_KNOTS = [1.11, 1.30, 1.50, 1.80, 2.10, 2.38]

DET_FDG_FIT = [0.44, 0.42, 0.405, 0.395, 0.382, 0.365]
DET_FDG_HI = [0.50, 0.455, 0.425, 0.408, 0.405, 0.425]
DET_FDG_LO = [0.39, 0.39, 0.387, 0.383, 0.365, 0.315]
DET_HV_FIT = [0.41, 0.403, 0.395, 0.387, 0.377]
DET_HV_HI = [0.46, 0.42, 0.405, 0.405, 0.42]
DET_HV_LO = [0.37, 0.387, 0.385, 0.37, 0.34]
DET_AMY_FIT = [0.39, 0.395, 0.403, 0.42, 0.44, 0.455]
DET_AMY_HI = [0.42, 0.405, 0.42, 0.465, 0.51, 0.545]
DET_AMY_LO = [0.36, 0.385, 0.385, 0.385, 0.38, 0.38]

IDN_FDG_FIT = [0.59, 0.57, 0.55, 0.537, 0.525, 0.51]
IDN_FDG_HI = [0.65, 0.60, 0.565, 0.55, 0.545, 0.565]
IDN_FDG_LO = [0.535, 0.54, 0.537, 0.525, 0.505, 0.455]
IDN_HV_FIT = [0.555, 0.551, 0.547, 0.542, 0.535]
IDN_HV_HI = [0.60, 0.57, 0.556, 0.556, 0.58]
IDN_HV_LO = [0.515, 0.535, 0.538, 0.528, 0.495]
IDN_AMY_FIT = [0.54, 0.541, 0.545, 0.555, 0.565, 0.575]
IDN_AMY_HI = [0.575, 0.55, 0.56, 0.59, 0.625, 0.665]
IDN_AMY_LO = [0.51, 0.533, 0.532, 0.525, 0.515, 0.505]

OCL_FDG_FIT = [65, 67.5, 69.8, 71, 70.6, 69.6]
OCL_FDG_HI = [69.2, 70, 71.2, 72.5, 73.2, 75.2]
OCL_FDG_LO = [61, 65, 68.3, 69.5, 68, 64]
OCL_HV_FIT = [67, 68.8, 70.5, 72.3, 74.5]
OCL_HV_HI = [71.3, 70.6, 71.8, 74.3, 78]
OCL_HV_LO = [63.2, 67.1, 69.3, 70.4, 71]
OCL_AMY_FIT = [69, 70.5, 71.4, 70.5, 69.3, 68.2]
OCL_AMY_HI = [72.5, 72.3, 73.5, 74, 74.5, 75]
OCL_AMY_LO = [66, 68.8, 69.5, 67, 64.2, 61.5]

ONB_FDG_FIT = [0.97, 0.88, 0.825, 0.80, 0.80, 0.80]
ONB_FDG_HI = [1.10, 0.95, 0.86, 0.83, 0.84, 0.92]
ONB_FDG_LO = [0.86, 0.825, 0.795, 0.775, 0.765, 0.69]
ONB_HV_FIT = [0.87, 0.85, 0.82, 0.79, 0.75]
ONB_HV_HI = [0.97, 0.88, 0.84, 0.815, 0.82]
ONB_HV_LO = [0.79, 0.82, 0.80, 0.765, 0.69]
ONB_AMY_FIT = [0.81, 0.815, 0.83, 0.88, 0.94, 0.99]
ONB_AMY_HI = [0.86, 0.83, 0.86, 0.95, 1.05, 1.18]
ONB_AMY_LO = [0.76, 0.80, 0.80, 0.81, 0.82, 0.83]

GMLT_FDG_FIT = [0.565, 0.585, 0.60, 0.615, 0.625, 0.63]
GMLT_FDG_HI = [0.64, 0.63, 0.625, 0.635, 0.66, 0.73]
GMLT_FDG_LO = [0.49, 0.54, 0.575, 0.595, 0.59, 0.535]
GMLT_HV_FIT = [0.54, 0.565, 0.585, 0.625, 0.695]
GMLT_HV_HI = [0.60, 0.585, 0.60, 0.655, 0.75]
GMLT_HV_LO = [0.48, 0.54, 0.565, 0.59, 0.635]
GMLT_AMY_FIT = [0.615, 0.613, 0.605, 0.585, 0.56, 0.53]
GMLT_AMY_HI = [0.66, 0.63, 0.635, 0.64, 0.645, 0.645]
GMLT_AMY_LO = [0.57, 0.595, 0.575, 0.53, 0.47, 0.41]

P_VALUES = [
    ["P=0.07", "P=0.45", "P=0.28"],
    ["P=0.04", "P=0.55", "P=0.59"],
    ["P=0.05", "P=0.02", "P=0.48"],
    ["P=0.006", "P=0.09", "P=0.09"],
    ["P=0.38", "P=0.001", "P=0.35"],
]
COL_HEADERS = ["FDG PET", "HV", "Amyloid PET"]
ROW_LABELS = ["DET", "IDN", "OCL", "ONB", "GMLT"]
X_TITLES = ["SUVR", "Volume, cm³", "SUVR"]
Y_TITLES = ["Time, s", "Time, s", "Percent correct", "Time, s", "Moves per second"]

# ---------------- layout constants ----------------
W, H = 792, 1049
FONT = "Arial, Liberation Sans, Helvetica, sans-serif"
TXT = "#231f20"
RED = "#b5121b"
TICK_SIZE = 13.5
TITLE_SIZE = 15

CELL_X = [24, 279, 536, 791]
CELL_TOP = 26
ROW_H = 204.5
PLOT_X = [(77, 261), (332.7, 511.7), (590, 768)]
PLOT_TOP_OFF, PLOT_BOT_OFF = 20, 154

col_cfg = [
    dict(x=FDG_SUVR, knots=FDG_KNOTS, type="linear", range=[1.092, 2.100],
         tv=[1.2, 1.4, 1.6, 1.8, 2.0], tt=["1.2", "1.4", "1.6", "1.8", "2.0"]),
    dict(x=HV_VOLUME, knots=HV_KNOTS, type="linear", range=[5.645, 10.188],
         tv=[6, 7, 8, 9, 10], tt=["6", "7", "8", "9", "10"]),
    dict(x=AMY_SUVR, knots=AMY_KNOTS, type="log", range=[0.0376, 0.3901],
         tv=[1.2, 1.4, 1.6, 1.8, 2.0, 2.2, 2.4], tt=["1.2", "1.4", "", "1.8", "", "2.2", ""]),
]
row_cfg = [
    dict(type="log", range=[-0.5852, -0.0292],
         tv=[0.3, 0.4, 0.5, 0.6, 0.7, 0.8, 0.9], tt=["0.3", "0.4", "0.5", "0.6", "0.7", "0.8", "0.9"],
         ys=[DET_FDG, DET_HV, DET_AMY],
         fits=[(DET_FDG_FIT, DET_FDG_LO, DET_FDG_HI), (DET_HV_FIT, DET_HV_LO, DET_HV_HI),
               (DET_AMY_FIT, DET_AMY_LO, DET_AMY_HI)]),
    dict(type="log", range=[-0.3974, 0.0663],
         tv=[0.5, 0.6, 0.7, 0.8, 0.9, 1.0, 1.1], tt=["0.5", "0.6", "0.7", "0.8", "0.9", "1.0", "1.1"],
         ys=[IDN_FDG, IDN_HV, IDN_AMY],
         fits=[(IDN_FDG_FIT, IDN_FDG_LO, IDN_FDG_HI), (IDN_HV_FIT, IDN_HV_LO, IDN_HV_HI),
               (IDN_AMY_FIT, IDN_AMY_LO, IDN_AMY_HI)]),
    dict(type="log", range=[1.6884, 1.9630],
         tv=[50, 60, 70, 80, 90], tt=["50", "60", "70", "80", "90"],
         ys=[OCL_FDG, OCL_HV, OCL_AMY],
         fits=[(OCL_FDG_FIT, OCL_FDG_LO, OCL_FDG_HI), (OCL_HV_FIT, OCL_HV_LO, OCL_HV_HI),
               (OCL_AMY_FIT, OCL_AMY_LO, OCL_AMY_HI)]),
    dict(type="log", range=[-0.3457, 0.2446],
         tv=[0.6, 0.8, 1.0, 1.2, 1.4, 1.6], tt=["0.6", "0.8", "1.0", "1.2", "1.4", "1.6"],
         ys=[ONB_FDG, ONB_HV, ONB_AMY],
         fits=[(ONB_FDG_FIT, ONB_FDG_LO, ONB_FDG_HI), (ONB_HV_FIT, ONB_HV_LO, ONB_HV_HI),
               (ONB_AMY_FIT, ONB_AMY_LO, ONB_AMY_HI)]),
    dict(type="linear", range=[0.1806, 1.027],
         tv=[0.2, 0.4, 0.6, 0.8, 1.0], tt=["0.2", "0.4", "0.6", "0.8", "1.0"],
         ys=[GMLT_FDG, GMLT_HV, GMLT_AMY],
         fits=[(GMLT_FDG_FIT, GMLT_FDG_LO, GMLT_FDG_HI), (GMLT_HV_FIT, GMLT_HV_LO, GMLT_HV_HI),
               (GMLT_AMY_FIT, GMLT_AMY_LO, GMLT_AMY_HI)]),
]


def px_x(p):
    return p / W


def px_y(p):
    return 1 - p / H


fig = go.Figure()
layout = dict(
    width=W, height=H, autosize=False,
    margin=dict(l=0, r=0, t=0, b=0),
    paper_bgcolor="white", plot_bgcolor="white",
    showlegend=False, font=dict(family=FONT, color=TXT, size=14),
)
annotations = []
shapes = []

axis_common = dict(
    showgrid=False, zeroline=False, showline=True, linecolor=TXT, linewidth=1,
    ticks="outside", ticklen=5, tickwidth=1, tickcolor=TXT, tickmode="array",
    tickfont=dict(family=FONT, size=TICK_SIZE, color=TXT), fixedrange=True,
)

idx = 0
for r, rc in enumerate(row_cfg):
    top = CELL_TOP + ROW_H * r
    ptop, pbot = top + PLOT_TOP_OFF, top + PLOT_BOT_OFF
    for c, cc in enumerate(col_cfg):
        idx += 1
        xa = "x" if idx == 1 else f"x{idx}"
        ya = "y" if idx == 1 else f"y{idx}"
        x0, x1 = PLOT_X[c]
        layout["xaxis" if idx == 1 else f"xaxis{idx}"] = dict(
            axis_common, domain=[px_x(x0), px_x(x1)], range=cc["range"], type=cc["type"],
            anchor=ya, tickvals=cc["tv"], ticktext=cc["tt"], ticklabelstandoff=-2,
        )
        layout["yaxis" if idx == 1 else f"yaxis{idx}"] = dict(
            axis_common, domain=[px_y(pbot), px_y(ptop)], range=rc["range"], type=rc["type"],
            anchor=xa, tickvals=rc["tv"], ticktext=rc["tt"],
        )
        fig.add_trace(go.Scatter(
            x=cc["x"], y=rc["ys"][c], mode="markers", xaxis=xa, yaxis=ya,
            marker=dict(symbol="circle-open", size=7, color=TXT, line=dict(width=1.1, color=TXT)),
            cliponaxis=False, hoverinfo="skip",
        ))
        fit, lo, hi = rc["fits"][c]
        for band in (lo, hi):
            fig.add_trace(go.Scatter(
                x=cc["knots"], y=band, mode="lines", xaxis=xa, yaxis=ya,
                line=dict(color=RED, width=1.2, dash="1px,3px", shape="spline"), hoverinfo="skip",
            ))
        fig.add_trace(go.Scatter(
            x=cc["knots"], y=fit, mode="lines", xaxis=xa, yaxis=ya,
            line=dict(color=RED, width=2.6, shape="spline"), hoverinfo="skip",
        ))
        cell_cx = (CELL_X[c] + CELL_X[c + 1]) / 2
        annotations.append(dict(
            x=px_x(cell_cx), y=px_y(top + 7.5), xref="paper", yref="paper",
            text=P_VALUES[r][c], showarrow=False, font=dict(size=TITLE_SIZE, color=TXT, family=FONT),
            xanchor="center", yanchor="middle",
        ))
        annotations.append(dict(
            x=px_x((x0 + x1) / 2), y=px_y(top + 194), xref="paper", yref="paper",
            text=X_TITLES[c], showarrow=False, font=dict(size=TITLE_SIZE, color=TXT, family=FONT),
            xanchor="center", yanchor="middle",
        ))
        annotations.append(dict(
            x=px_x(x0 - 39), y=px_y((ptop + pbot) / 2), xref="paper", yref="paper",
            text=Y_TITLES[r], showarrow=False, textangle=-90,
            font=dict(size=TITLE_SIZE, color=TXT, family=FONT), xanchor="center", yanchor="middle",
        ))
    annotations.append(dict(
        x=px_x(10), y=px_y(top + ROW_H / 2), xref="paper", yref="paper",
        text=f"<b>{ROW_LABELS[r]}</b>", showarrow=False, textangle=-90,
        font=dict(size=14, color=TXT, family=FONT), xanchor="center", yanchor="middle",
    ))

for c in range(3):
    annotations.append(dict(
        x=px_x((CELL_X[c] + CELL_X[c + 1]) / 2), y=px_y(8), xref="paper", yref="paper",
        text=f"<b>{COL_HEADERS[c]}</b>", showarrow=False,
        font=dict(size=14, color=TXT, family=FONT), xanchor="center", yanchor="middle",
    ))

# table grid
grid = dict(type="line", xref="paper", yref="paper", line=dict(color="#333333", width=1))
bottom = CELL_TOP + ROW_H * 5
shapes.append(dict(type="rect", xref="paper", yref="paper",
                   x0=px_x(CELL_X[0]), x1=px_x(CELL_X[3]), y0=px_y(bottom), y1=px_y(CELL_TOP),
                   line=dict(color="#333333", width=1)))
for c in (1, 2):
    shapes.append(dict(grid, x0=px_x(CELL_X[c]), x1=px_x(CELL_X[c]), y0=px_y(bottom), y1=px_y(CELL_TOP)))
for r in range(1, 5):
    yy = CELL_TOP + ROW_H * r
    shapes.append(dict(grid, x0=px_x(CELL_X[0]), x1=px_x(CELL_X[3]), y0=px_y(yy), y1=px_y(yy)))

layout["annotations"] = annotations
layout["shapes"] = shapes
fig.update_layout(**layout)
fig.write_html(
    "out.html",
    config={"displayModeBar": False},
    post_script="document.body.style.margin='0';document.body.style.padding='0';",
)
